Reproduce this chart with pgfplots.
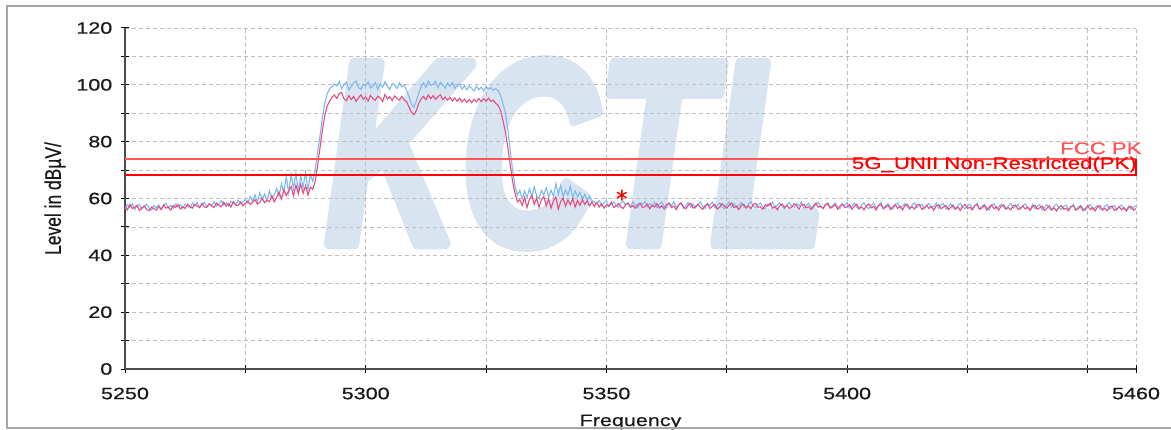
\documentclass[border=0pt]{standalone}
\usepackage{fontspec}
\setmainfont{Liberation Sans}[FakeStretch=1.31, FakeBold=0.6]
\newfontfamily\plainfont{Liberation Sans}[FakeBold=0.6]
\newfontfamily\wmfont{Liberation Sans}
\usepackage{graphicx}
\usepackage{pgfplots}
\usepackage{pgfplotstable}
\pgfplotsset{compat=1.18}

\definecolor{trblue}{RGB}{125,185,240}
\definecolor{trpink}{RGB}{228,78,128}
\definecolor{wm}{RGB}{216,229,241}
\definecolor{fccred}{RGB}{255,85,85}
\definecolor{gridgray}{RGB}{190,190,190}

% frequency, blue trace, pink trace
\pgfplotstableread{
f blue pink
5250.0 56.4 57.3
5250.5 57.8 56.0
5251.0 56.9 57.9
5251.5 58.2 56.5
5252.0 56.1 56.9
5252.5 57.4 57.6
5253.0 57.9 55.8
5253.5 56.3 56.7
5254.0 57.1 57.4
5254.5 58.0 56.2
5255.0 56.6 55.7
5255.5 55.9 57.0
5256.0 57.5 56.4
5256.5 56.8 55.9
5257.0 57.7 57.2
5257.5 56.2 56.1
5258.0 57.3 57.8
5258.5 58.3 56.6
5259.0 56.7 57.0
5259.5 57.6 55.9
5260.0 56.5 57.5
5260.5 58.1 56.8
5261.0 57.0 57.9
5261.5 57.8 56.3
5262.0 56.6 57.1
5262.5 58.0 56.5
5263.0 57.2 58.0
5263.5 56.7 57.2
5264.0 58.4 56.6
5264.5 57.5 57.9
5265.0 58.6 57.3
5265.5 56.9 56.8
5266.0 57.8 58.3
5266.5 58.7 57.0
5267.0 57.1 56.9
5267.5 58.2 58.1
5268.0 57.6 57.4
5268.5 58.9 56.8
5269.0 57.3 58.4
5269.5 58.1 57.6
5270.0 59.2 57.1
5270.5 57.7 58.7
5271.0 58.5 57.3
5271.5 57.4 58.2
5272.0 59.0 57.0
5272.5 58.3 58.9
5273.0 57.8 57.7
5273.5 59.4 57.5
5274.0 58.1 58.8
5274.5 58.8 57.4
5275.0 59.6 58.3
5275.5 58.4 59.1
5276.0 60.7 57.9
5276.5 59.0 58.8
5277.0 61.3 59.6
5277.5 58.8 58.0
5278.0 62.0 58.7
5278.5 59.5 60.2
5279.0 61.6 58.5
5279.5 59.2 59.4
5280.0 62.7 58.9
5280.5 60.0 61.0
5281.0 61.4 58.8
5281.5 63.5 60.4
5282.0 60.8 62.3
5282.5 65.2 59.8
5283.0 62.0 63.1
5283.5 67.8 61.0
5284.0 61.9 62.6
5284.5 68.5 64.2
5285.0 63.4 60.9
5285.5 68.9 64.7
5286.0 62.5 61.6
5286.5 68.0 65.0
5287.0 63.8 61.8
5287.5 69.2 64.5
5288.0 63.0 61.2
5288.5 68.4 64.0
5289.0 66.0 63.2
5289.5 70.0 66.0
5290.0 76.5 71.5
5290.5 82.0 77.8
5291.0 88.5 84.0
5291.5 93.5 89.2
5292.0 96.8 92.5
5292.5 98.6 94.3
5293.0 99.4 95.6
5293.5 100.3 96.4
5294.0 99.6 95.2
5294.5 101.2 97.0
5295.0 98.6 97.3
5295.5 100.1 95.0
5296.0 100.9 94.4
5296.5 98.2 96.2
5297.0 99.4 94.8
5297.5 100.6 95.9
5298.0 101.3 94.2
5298.5 99.0 95.4
5299.0 98.4 96.5
5299.5 100.2 94.9
5300.0 99.7 95.7
5300.5 101.0 94.3
5301.0 98.9 96.3
5301.5 99.5 95.1
5302.0 100.8 94.6
5302.5 98.5 96.0
5303.0 100.4 95.4
5303.5 99.2 94.1
5304.0 101.1 96.6
5304.5 99.6 95.0
5305.0 98.3 95.8
5305.5 100.5 94.5
5306.0 99.9 96.1
5306.5 98.7 95.2
5307.0 100.7 94.6
5307.5 99.3 95.9
5308.0 100.0 94.8
5308.5 97.9 94.0
5309.0 95.8 92.2
5309.5 93.2 90.3
5310.0 92.1 89.5
5310.5 94.3 90.9
5311.0 97.0 93.4
5311.5 99.2 95.0
5312.0 100.7 95.9
5312.5 99.1 94.7
5313.0 101.4 96.4
5313.5 99.8 95.1
5314.0 100.2 96.2
5314.5 101.2 94.9
5315.0 99.0 95.8
5315.5 100.9 96.5
5316.0 100.0 94.8
5316.5 98.8 95.7
5317.0 100.6 94.6
5317.5 99.5 95.6
5318.0 100.8 94.3
5318.5 98.7 95.4
5319.0 99.9 94.2
5319.5 100.4 95.3
5320.0 98.4 94.0
5320.5 99.7 95.0
5321.0 98.2 93.8
5321.5 99.6 94.8
5322.0 98.8 93.7
5322.5 97.9 94.9
5323.0 99.5 94.0
5323.5 98.3 95.2
5324.0 99.2 94.1
5324.5 97.8 95.1
5325.0 99.4 94.3
5325.5 98.5 95.3
5326.0 99.0 94.2
5326.5 98.1 94.6
5327.0 98.7 93.5
5327.5 98.0 92.8
5328.0 96.3 91.0
5328.5 93.4 87.6
5329.0 90.2 83.5
5329.5 84.6 78.2
5330.0 77.3 72.0
5330.5 70.1 66.1
5331.0 64.5 62.0
5331.5 61.2 58.8
5332.0 62.8 59.6
5332.5 59.8 57.6
5333.0 62.6 60.4
5333.5 60.3 56.8
5334.0 63.4 59.7
5334.5 60.6 61.0
5335.0 64.1 57.9
5335.5 61.0 60.2
5336.0 59.9 56.9
5336.5 62.8 59.6
5337.0 61.3 60.7
5337.5 63.8 57.4
5338.0 60.4 59.9
5338.5 62.9 56.6
5339.0 60.8 59.2
5339.5 65.3 60.5
5340.0 61.5 56.2
5340.5 64.6 58.9
5341.0 60.7 60.1
5341.5 63.0 57.3
5342.0 61.2 59.5
5342.5 64.3 57.8
5343.0 60.3 60.0
5343.5 62.7 57.0
5344.0 60.6 59.3
5344.5 62.2 57.6
5345.0 59.8 59.6
5345.5 61.5 57.9
5346.0 59.4 59.2
5346.5 60.9 57.4
5347.0 59.2 58.8
5347.5 58.9 57.2
5348.0 58.2 58.6
5348.5 59.3 57.0
5349.0 57.4 58.1
5349.5 58.6 56.6
5350.0 59.1 57.8
5350.5 57.2 57.3
5351.0 58.0 58.7
5351.5 58.8 56.8
5352.0 57.5 57.4
5352.5 56.9 58.2
5353.0 58.4 57.0
5353.5 59.0 56.5
5354.0 57.7 57.9
5354.5 58.3 58.4
5355.0 57.0 56.9
5355.5 58.9 57.5
5356.0 57.6 56.6
5356.5 56.8 57.8
5357.0 58.5 58.3
5357.5 57.9 56.8
5358.0 59.0 57.1
5358.5 57.1 58.0
5359.0 58.2 56.4
5359.5 57.3 57.6
5360.0 58.7 57.0
5360.5 56.8 58.2
5361.0 57.9 56.7
5361.5 58.8 57.4
5362.0 57.2 56.3
5362.5 56.6 57.9
5363.0 58.4 58.4
5363.5 57.5 56.8
5364.0 58.9 57.3
5364.5 56.9 56.1
5365.0 57.7 57.7
5365.5 58.3 58.5
5366.0 56.5 57.0
5366.5 57.4 56.4
5367.0 58.6 57.6
5367.5 57.0 58.3
5368.0 58.1 56.6
5368.5 56.7 57.1
5369.0 57.8 58.0
5369.5 58.9 56.9
5370.0 57.3 56.2
5370.5 56.5 57.5
5371.0 58.2 58.1
5371.5 57.6 56.5
5372.0 58.7 57.2
5372.5 56.8 57.9
5373.0 57.4 56.3
5373.5 58.5 56.9
5374.0 57.1 58.2
5374.5 56.4 57.4
5375.0 57.9 56.6
5375.5 58.8 57.7
5376.0 57.0 58.4
5376.5 58.3 56.8
5377.0 56.9 57.3
5377.5 57.6 56.1
5378.0 58.6 57.6
5378.5 57.2 58.0
5379.0 56.6 56.7
5379.5 58.0 57.4
5380.0 58.9 56.4
5380.5 57.3 57.9
5381.0 56.7 58.3
5381.5 57.8 56.9
5382.0 58.4 57.1
5382.5 57.0 56.2
5383.0 56.5 57.8
5383.5 58.1 57.3
5384.0 57.5 58.4
5384.5 58.7 56.6
5385.0 56.8 57.2
5385.5 57.7 56.0
5386.0 58.5 57.5
5386.5 57.1 58.1
5387.0 56.4 56.8
5387.5 57.9 57.6
5388.0 58.6 56.5
5388.5 57.3 57.0
5389.0 56.9 58.2
5389.5 58.2 57.4
5390.0 57.4 56.3
5390.5 58.8 57.7
5391.0 56.6 58.0
5391.5 57.5 56.7
5392.0 58.3 57.2
5392.5 57.0 56.1
5393.0 56.5 57.5
5393.5 58.0 58.3
5394.0 58.7 56.9
5394.5 57.2 57.3
5395.0 56.8 56.4
5395.5 57.9 57.8
5396.0 58.5 58.2
5396.5 56.7 56.6
5397.0 57.6 57.0
5397.5 58.4 57.9
5398.0 57.1 56.2
5398.5 56.4 57.4
5399.0 58.1 58.0
5399.5 57.5 56.8
5400.0 58.6 57.1
5400.5 56.6 57.8
5401.0 57.4 56.2
5401.5 58.4 57.3
5402.0 56.9 58.0
5402.5 56.2 56.5
5403.0 57.8 57.0
5403.5 58.5 56.0
5404.0 57.0 57.4
5404.5 56.4 58.1
5405.0 57.6 56.7
5405.5 58.3 57.2
5406.0 56.8 55.9
5406.5 57.2 57.6
5407.0 58.6 57.9
5407.5 56.5 56.4
5408.0 57.5 56.9
5408.5 58.1 57.7
5409.0 56.9 56.1
5409.5 56.3 57.0
5410.0 57.9 57.8
5410.5 58.4 56.5
5411.0 56.7 57.3
5411.5 57.3 56.0
5412.0 58.2 57.5
5412.5 57.0 58.0
5413.0 56.2 56.6
5413.5 57.7 57.1
5414.0 58.5 56.3
5414.5 56.8 57.7
5415.0 57.4 57.9
5415.5 58.0 56.2
5416.0 56.4 56.8
5416.5 57.6 57.6
5417.0 58.3 56.5
5417.5 56.9 57.2
5418.0 57.2 55.9
5418.5 58.4 57.4
5419.0 56.5 57.8
5419.5 57.8 56.4
5420.0 58.1 57.0
5420.5 56.3 57.6
5421.0 57.0 56.1
5421.5 58.2 56.8
5422.0 56.7 57.7
5422.5 56.1 56.3
5423.0 57.6 57.0
5423.5 58.3 55.8
5424.0 56.9 57.3
5424.5 56.4 57.9
5425.0 57.5 56.5
5425.5 58.0 56.9
5426.0 56.6 56.0
5426.5 57.2 57.5
5427.0 58.4 57.8
5427.5 56.2 56.2
5428.0 57.3 56.7
5428.5 57.9 57.6
5429.0 56.8 55.9
5429.5 56.0 56.9
5430.0 57.7 57.7
5430.5 58.2 56.4
5431.0 56.5 57.1
5431.5 57.1 55.9
5432.0 58.0 57.3
5432.5 56.8 57.8
5433.0 56.2 56.4
5433.5 57.5 56.8
5434.0 58.3 56.0
5434.5 56.6 57.5
5435.0 57.2 57.7
5435.5 57.8 56.1
5436.0 56.3 56.6
5436.5 57.4 57.4
5437.0 58.1 56.3
5437.5 56.7 57.0
5438.0 56.1 55.8
5438.5 57.9 57.2
5439.0 56.4 57.6
5439.5 57.3 56.2
5440.0 57.8 56.7
5440.5 56.0 57.3
5441.0 56.9 55.8
5441.5 57.9 56.6
5442.0 56.4 57.4
5442.5 55.9 56.0
5443.0 57.4 56.7
5443.5 58.0 55.6
5444.0 56.6 57.0
5444.5 56.1 57.5
5445.0 57.2 56.2
5445.5 57.7 56.6
5446.0 56.3 55.7
5446.5 56.9 57.2
5447.0 58.0 57.4
5447.5 56.0 55.9
5448.0 57.0 56.4
5448.5 57.6 57.3
5449.0 56.5 55.7
5449.5 55.8 56.5
5450.0 57.3 57.4
5450.5 57.9 56.1
5451.0 56.2 56.8
5451.5 56.8 55.6
5452.0 57.6 57.0
5452.5 56.4 57.5
5453.0 55.9 56.0
5453.5 57.2 56.5
5454.0 57.8 55.7
5454.5 56.3 57.1
5455.0 56.9 57.3
5455.5 57.5 55.8
5456.0 56.0 56.3
5456.5 57.1 57.1
5457.0 57.7 56.0
5457.5 56.4 56.8
5458.0 55.9 55.6
5458.5 57.4 56.9
5459.0 56.2 57.2
5459.5 56.9 55.9
5460.0 57.5 56.5
}\spectrum

\begin{document}
\begin{tikzpicture}
\begin{axis}[
  name=ax, at={(0,0)}, anchor=south west,
  scale only axis, width=1011bp, height=341bp,
  set layers, clip=false,
  xmin=5250, xmax=5460, ymin=0, ymax=120,
  axis lines=left,
  axis line style={-, draw=black!70, line width=1.4bp},
  xtick={5250,5300,5350,5400,5460},
  minor xtick={5275,5325,5375,5425,5450},
  ytick={0,20,...,120},
  minor ytick={10,30,...,110},
  tick align=center, major tick length=9bp, minor tick length=9bp,
  tick style={black, line width=1bp},
  grid=both,
  major grid style={gridgray, line width=0.8bp, dash pattern=on 4bp off 3bp},
  minor grid style={gridgray, line width=0.8bp, dash pattern=on 4bp off 3bp},
  /pgf/number format/1000 sep={},
  /pgf/number format/assume math mode=true,
  tick label style={font=\fontsize{16.5}{18}\selectfont, text=black!90},
  yticklabel style={anchor=east, inner sep=0pt, xshift=-8bp},
  xticklabel style={anchor=north, inner sep=0pt, yshift=-14bp},
]
\begin{pgfonlayer}{axis background}
  % watermark, filled and stroked so that it looks heavier
  \node[anchor=base west, text=wm, inner sep=0pt,
        font=\wmfont\bfseries\itshape\fontsize{262}{262}\selectfont]
    at (axis cs:5291.5,44.2)
    {\scalebox{0.72}[1]{\special{pdf:code 2 Tr 12 w 1 j}KCTL\special{pdf:code 0 Tr 1 w 0 j}}};
\end{pgfonlayer}

\addplot[trblue, line width=1.1bp] table[x=f, y=blue] {\spectrum};
\addplot[trpink, line width=1.1bp] table[x=f, y=pink] {\spectrum};

\addplot[fccred, line width=1.6bp] coordinates {(5250,74) (5460,74)};
\addplot[red, line width=2.2bp] coordinates {(5250,68.2) (5460,68.2) (5460,74)};

\addplot[only marks, mark=asterisk, mark size=5.5bp, red, line width=1.4bp]
  coordinates {(5353.2,61.2)};

\node[anchor=base east, inner sep=0pt, text=fccred,
      font=\fontsize{17}{19}\selectfont] at (axis cs:5461.2,75.6) {FCC PK};
\node[anchor=base east, inner sep=0pt, text=red,
      font=\fontsize{17}{19}\selectfont] at (axis cs:5460.2,70.4) {5G\_UNII Non-Restricted(PK)};
\end{axis}

\node[anchor=base, inner sep=0pt, font=\fontsize{16.5}{18}\selectfont, text=black!90]
  at ([yshift=-57bp]ax.south) {Frequency};
\node[rotate=90, inner sep=0pt, font=\plainfont\fontsize{17.5}{20}\selectfont, text=black!90]
  at ([xshift=-70bp]ax.west) {\scalebox{1}[1.3]{Level in dBµV/}};

\draw[black!35, line width=1.5bp]
  ([shift={(1200bp,363bp)}]ax.south west) -- ([shift={(-118bp,363bp)}]ax.south west)
  -- ([shift={(-118bp,-59bp)}]ax.south west) -- ([shift={(1200bp,-59bp)}]ax.south west);

\pgfresetboundingbox
\path ([shift={(-125bp,-61bp)}]ax.south west) rectangle ([shift={(1046bp,369bp)}]ax.south west);
\end{tikzpicture}
\end{document}
